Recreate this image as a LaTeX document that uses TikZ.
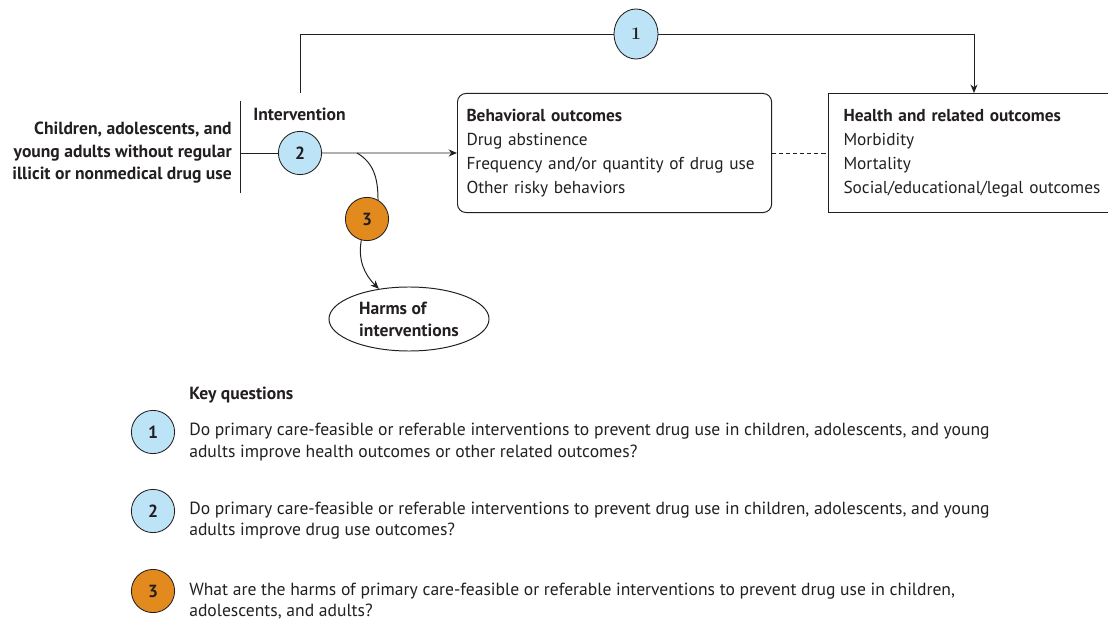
\documentclass[tikz,border=0pt]{standalone}
\usepackage{fontspec}
\setsansfont{PT Sans}
\usetikzlibrary{arrows.meta, positioning, shapes.geometric}

\definecolor{kqblue}{HTML}{BDE3F6}
\definecolor{kqorange}{HTML}{E38A1E}
\definecolor{inkgray}{HTML}{231F20}

\begin{document}
\begin{tikzpicture}[
			x=0.025cm, y=-0.025cm,
			font=\sffamily\fontsize{12.5}{17}\selectfont,
			text=inkgray,
			% Gaya untuk kotak hasil
			outcome/.style={
				rectangle,
				draw=inkgray,
				line width=0.7pt,
				anchor=north west,
				minimum height=2.975cm,
				inner xsep=0.225cm,
				align=left,
				font=\sffamily\fontsize{12.3}{17}\selectfont
			},
			% Gaya untuk lingkaran pertanyaan kunci
			kq/.style={
				circle,
				draw=inkgray,
				line width=0.6pt,
				minimum size=1.08cm,
				inner sep=0pt,
				font=\sffamily\bfseries\fontsize{12.5}{13}\selectfont
			},
			kqtext/.style={
				anchor=west,
				inner sep=0pt,
				align=left,
				font=\sffamily\fontsize{12.5}{15}\selectfont
			},
			% Gaya untuk garis
			link/.style={
				draw=inkgray,
				line width=0.7pt
			},
			arrow/.style={
				-{Stealth[length=6pt, width=5pt]},
				link
			}
			]
			
			\useasboundingbox (0,0) rectangle (1108,622);
			
			% Populasi dan intervensi
			\node[anchor=east, inner sep=0pt, align=right,
				font=\sffamily\bfseries\fontsize{12.5}{16}\selectfont] (pop) at (232,153) {
				Children, adolescents, and\\
				young adults without regular\\
				illicit or nonmedical drug use
			};
			\draw[link] (240,101) -- (240,193);
			\coordinate (popline) at (240,153);
			
			\node[anchor=west, inner sep=0pt, font=\sffamily\bfseries\fontsize{12.5}{13}\selectfont] (intv) at (253,114) {Intervention};
			
			\node[kq, fill=kqblue] (c2) at (300,153) {2};
			
			% Kotak hasil
			\node[outcome, rounded corners=6pt, text width=7.4cm] (behav) at (457,93) {
				\textbf{Behavioral outcomes}\\
				Drug abstinence\\
				Frequency and/or quantity of drug use\\
				Other risky behaviors
			};
			
			\node[outcome, inner xsep=0.375cm, text width=7cm] (health) at (828,93) {
				\textbf{Health and related outcomes}\\
				Morbidity\\
				Mortality\\
				Social/educational/legal outcomes
			};
			
			% Bahaya
			\node[kq, fill=kqorange] (c3) at (367,219) {3};
			
			\node[ellipse, draw=inkgray, line width=0.7pt, minimum width=4cm, minimum height=1.6cm,
				align=left, font=\sffamily\bfseries\fontsize{12.5}{15.6}\selectfont] (harms) at (409,319) {
				Harms of\\
				interventions
			};
			
			% Pertanyaan kunci 1 di atas
			\node[ellipse, draw=inkgray, line width=0.6pt, fill=kqblue, minimum width=1.1cm,
				minimum height=1.25cm, inner sep=0pt, font=\rmfamily\bfseries\fontsize{12.5}{13}\selectfont] (c1) at (636,34) {1};
			\coordinate (kq1start) at (300,93);
			\coordinate (kq1end) at (974,93);
			
			% Menghubungkan komponen
			\draw[link] (popline) -- (c2);
			\draw[arrow] (c2) -- (behav.west);
			\draw[link, dash pattern=on 3pt off 2pt] (behav) -- (health);
			\draw[link] (kq1start) |- (c1);
			\draw[arrow] (c1) -| (kq1end);
			
			\coordinate (split) at (357,153);
			\draw[link] (split) to[out=-30, in=90] (c3.60);
			\draw[arrow] (c3.-105) to[out=-100, in=135] (harms);
			
			% Daftar pertanyaan kunci
			\node[anchor=west, inner sep=0pt, font=\sffamily\bfseries\fontsize{12.5}{13}\selectfont] (kqtitle) at (189,395) {Key questions};
			
			\node[kq, fill=kqblue] (q1) at (153,432) {1};
			\node[kqtext] (q1text) at (189,442) {
				Do primary care-feasible or referable interventions to prevent drug use in children, adolescents, and young\\
				adults improve health outcomes or other related outcomes?
			};
			
			\node[kq, fill=kqblue] (q2) at (153,511) {2};
			\node[kqtext] (q2text) at (189,521) {
				Do primary care-feasible or referable interventions to prevent drug use in children, adolescents, and young\\
				adults improve drug use outcomes?
			};
			
			\node[kq, fill=kqorange] (q3) at (153,591) {3};
			\node[kqtext] (q3text) at (189,601) {
				What are the harms of primary care-feasible or referable interventions to prevent drug use in children,\\
				adolescents, and adults?
			};
			
		\end{tikzpicture}
\end{document}
